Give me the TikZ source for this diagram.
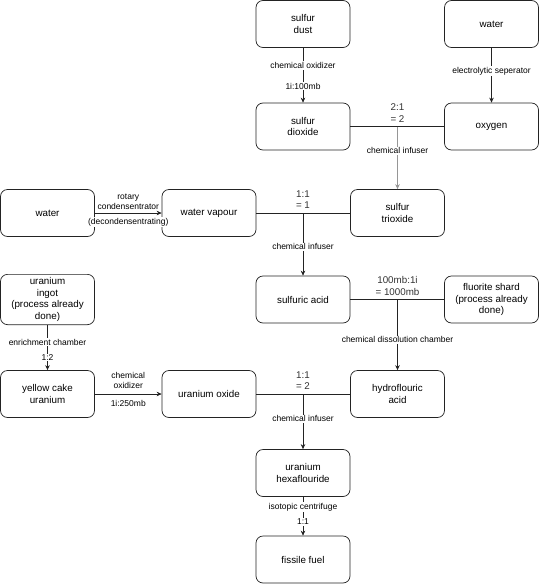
\documentclass[tikz,border=0pt]{standalone}
\usepackage{fontspec}
\setmainfont{Liberation Sans}
\usepackage{xcolor}
\usepackage{tikz}
\usetikzlibrary{arrows.meta}
\definecolor{lineclr}{RGB}{35, 35, 35}
\definecolor{infgray}{RGB}{150, 150, 150}

\begin{document}
\begin{tikzpicture}[
    x=1pt, y=-1pt,
    box/.style={rectangle, draw=lineclr, fill=white, minimum width=94pt, minimum height=47pt, align=center, rounded corners=7pt, line width=0.7pt, font=\fontsize{9.8}{11.5}\selectfont},
    lbl/.style={fill=white, inner sep=1pt, align=center, text=black, font=\fontsize{8.5}{10}\selectfont},
    ratio/.style={above, inner sep=4pt, align=center, text=black!80, font=\fontsize{9.8}{11.5}\selectfont},
    arrow/.style={-{Stealth[length=5pt, width=4.5pt]}, line width=0.7pt, lineclr},
    link/.style={line width=0.7pt, lineclr}
]
\useasboundingbox (0,0) rectangle (540,584);

\node[box] (dust) at (303,24) {sulfur\\dust};
\node[box] (water1) at (491.5,24) {water};
\node[box] (sdiox) at (303,126.5) {sulfur\\dioxide};
\node[box] (oxy) at (491.5,126.5) {oxygen};
\node[box] (water2) at (47.5,213) {water};
\node[box] (vapour) at (209,213) {water vapour};
\node[box] (strio) at (397.5,213) {sulfur\\trioxide};
\node[box] (ingot) at (47.5,299.5) {uranium\\ingot\\(process already\\done)};
\node[box] (sacid) at (303,299.5) {sulfuric acid};
\node[box] (fluor) at (491.5,299.5) {fluorite shard\\(process already\\done)};
\node[box] (ycake) at (47.5,394) {yellow cake\\uranium};
\node[box] (uox) at (209,394) {uranium oxide};
\node[box] (hfacid) at (397.5,394) {hydroflouric\\acid};
\node[box] (uhex) at (303,473) {uranium\\hexaflouride};
\node[box] (fuel) at (303,559.5) {fissile fuel};

% junctions
\coordinate (j1) at (sdiox.east -| strio.north);
\coordinate (j2) at (vapour.east -| sacid.north);
\coordinate (j3) at (sacid.east -| hfacid.north);
\coordinate (j4) at (uox.east -| uhex.north);

\draw[arrow] (dust) -- node[lbl, pos=0.32] {chemical oxidizer} node[lbl, pos=0.7] {1i:100mb} (sdiox);
\draw[arrow] (water1) -- node[lbl, pos=0.43] {electrolytic seperator} (oxy);
\draw[link] (sdiox) -- (oxy);
\node[ratio] (r1) at (j1) {2:1\\= 2};
\draw[arrow, infgray] (j1) -- node[lbl, pos=0.39] {chemical infuser} (strio);

\draw[arrow] (water2) -- node[lbl, above=2.5pt] {rotary\\condensentrator} node[lbl, below=3.5pt] {(decondensentrating)} (vapour);
\draw[link] (vapour) -- (strio);
\node[ratio] (r2) at (j2) {1:1\\= 1};
\draw[arrow] (j2) -- node[lbl, pos=0.54] {chemical infuser} (sacid);

\draw[link] (sacid) -- (fluor);
\node[ratio] (r3) at (j3) {100mb:1i\\= 1000mb};
\draw[arrow] (j3) -- node[lbl, pos=0.57] {chemical dissolution chamber} (hfacid);

\draw[arrow] (ingot) -- node[lbl, pos=0.38] {enrichment chamber} node[lbl, pos=0.72] {1:2} (ycake);
\draw[arrow] (ycake) -- node[lbl, above=4pt] {chemical\\oxidizer} node[lbl, below=4.5pt] {1i:250mb} (uox);
\draw[link] (uox) -- (hfacid);
\node[ratio] (r4) at (j4) {1:1\\= 2};
\draw[arrow] (j4) -- node[lbl, pos=0.45] {chemical infuser} (uhex);

\draw[arrow] (uhex) -- node[lbl, pos=0.26] {isotopic centrifuge} node[lbl, pos=0.64] {1:1} (fuel);

\end{tikzpicture}
\end{document}
